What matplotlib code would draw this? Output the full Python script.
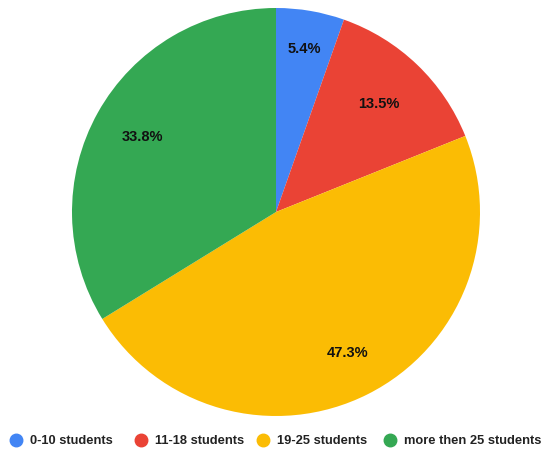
import numpy as np
import matplotlib.pyplot as plt
from matplotlib.lines import Line2D

plt.rcParams['font.family'] = ['Liberation Sans', 'DejaVu Sans']

labels = ['0-10 students', '11-18 students', '19-25 students', 'more then 25 students']
counts = [4, 10, 35, 25]
colors = ['#4285F4', '#EA4335', '#FBBC04', '#34A853']

W, H = 542, 449
fig = plt.figure(figsize=(W / 100, H / 100), dpi=100)
ax = fig.add_axes([72 / W, 33 / H, 408 / W, 408 / H])

wedges, texts = ax.pie(counts, colors=colors, startangle=90, counterclock=False,
                       wedgeprops={'linewidth': 0})
ax.set_xlim(-1, 1)
ax.set_ylim(-1, 1)
ax.set_aspect('equal')

total = sum(counts)
# label distance from centre, as fraction of radius (small slice sits further out)
dists = [0.81, 0.73, 0.775, 0.75]
for w, n, d in zip(wedges, counts, dists):
    ang = np.deg2rad((w.theta1 + w.theta2) / 2)
    ax.text(d * np.cos(ang), d * np.sin(ang), f"{100 * n / total:.1f}%",
            ha='center', va='center', fontsize=10.5, fontweight='bold', color='#111111')

# legend row along the bottom, laid out by hand (pixel x of each marker)
marker_x = [16, 141, 263, 390]
leg_y = 1 - 440 / H
for mx, lab, c in zip(marker_x, labels, colors):
    fig.add_artist(Line2D([mx / W], [leg_y], marker='o', linestyle='', markersize=9,
                          markerfacecolor=c, markeredgecolor=c,
                          transform=fig.transFigure))
    fig.text((mx + 14) / W, leg_y, lab, ha='left', va='center_baseline',
             fontsize=9.3, fontweight='bold', color='#222222')

fig.savefig('out.png', dpi=100)
